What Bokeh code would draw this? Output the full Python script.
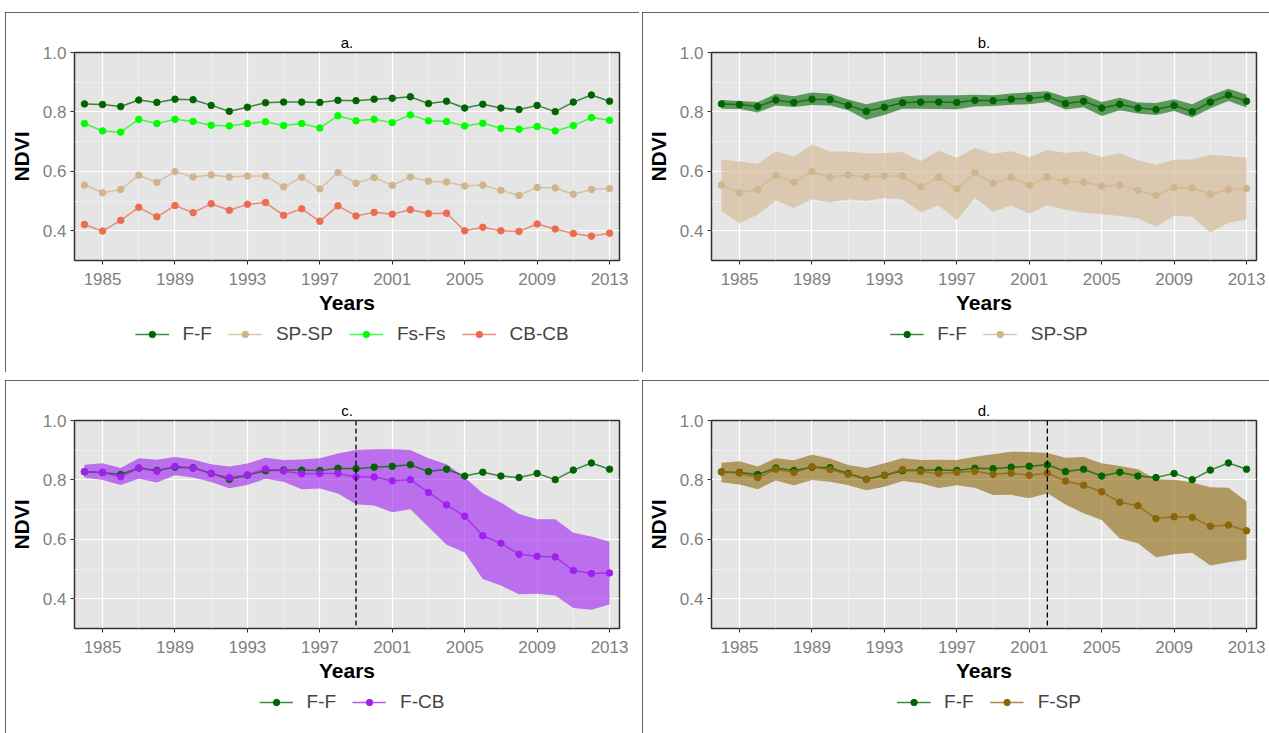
from bokeh.plotting import figure
from bokeh.models import (Range1d, FixedTicker, PrintfTickFormatter, Legend,
                          LegendItem, Span)
from bokeh.embed import file_html
from bokeh.resources import INLINE

# ---------------- data ----------------
years = [1984, 1985, 1986, 1987, 1988, 1989, 1990, 1991, 1992, 1993,
         1994, 1995, 1996, 1997, 1998, 1999, 2000, 2001, 2002, 2003,
         2004, 2005, 2006, 2007, 2008, 2009, 2010, 2011, 2012, 2013]

ff = [0.827, 0.825, 0.818, 0.840, 0.832, 0.843, 0.841, 0.822, 0.802, 0.816,
      0.831, 0.833, 0.833, 0.832, 0.839, 0.838, 0.843, 0.846, 0.851, 0.828,
      0.836, 0.813, 0.826, 0.813, 0.808, 0.822, 0.801, 0.833, 0.857, 0.836]
ff_hi = [0.840, 0.837, 0.833, 0.861, 0.853, 0.865, 0.861, 0.842, 0.826, 0.839,
         0.852, 0.856, 0.856, 0.856, 0.858, 0.856, 0.862, 0.866, 0.870, 0.850,
         0.858, 0.833, 0.848, 0.832, 0.830, 0.843, 0.826, 0.855, 0.878, 0.859]
ff_lo = [0.811, 0.810, 0.798, 0.822, 0.817, 0.823, 0.822, 0.806, 0.774, 0.790,
         0.811, 0.811, 0.810, 0.809, 0.818, 0.820, 0.824, 0.826, 0.833, 0.808,
         0.816, 0.786, 0.806, 0.795, 0.790, 0.803, 0.781, 0.812, 0.837, 0.815]

fsfs = [0.761, 0.736, 0.732, 0.775, 0.761, 0.775, 0.768, 0.755, 0.753, 0.761,
        0.767, 0.754, 0.761, 0.746, 0.787, 0.770, 0.775, 0.764, 0.790, 0.770,
        0.768, 0.753, 0.762, 0.745, 0.742, 0.751, 0.736, 0.754, 0.781, 0.772]

spsp = [0.554, 0.528, 0.539, 0.587, 0.563, 0.599, 0.581, 0.588, 0.581, 0.584,
        0.584, 0.548, 0.580, 0.541, 0.596, 0.560, 0.579, 0.553, 0.581, 0.567,
        0.564, 0.551, 0.554, 0.536, 0.519, 0.546, 0.544, 0.523, 0.539, 0.542]
spsp_hi = [0.640, 0.633, 0.626, 0.668, 0.650, 0.690, 0.667, 0.667, 0.661, 0.661,
           0.665, 0.635, 0.669, 0.646, 0.679, 0.659, 0.668, 0.648, 0.672, 0.662,
           0.668, 0.648, 0.661, 0.637, 0.622, 0.639, 0.640, 0.656, 0.651, 0.646]
spsp_lo = [0.467, 0.425, 0.454, 0.502, 0.477, 0.506, 0.496, 0.506, 0.501, 0.510,
           0.505, 0.462, 0.485, 0.436, 0.511, 0.464, 0.485, 0.458, 0.487, 0.470,
           0.461, 0.456, 0.450, 0.442, 0.414, 0.451, 0.447, 0.394, 0.427, 0.438]

cbcb = [0.421, 0.399, 0.435, 0.479, 0.447, 0.485, 0.461, 0.491, 0.469, 0.489,
        0.495, 0.452, 0.474, 0.432, 0.484, 0.450, 0.462, 0.456, 0.471, 0.458,
        0.459, 0.400, 0.412, 0.400, 0.398, 0.423, 0.406, 0.391, 0.382, 0.392]

fcb = [0.828, 0.825, 0.811, 0.840, 0.829, 0.846, 0.839, 0.822, 0.808, 0.817,
       0.837, 0.830, 0.821, 0.822, 0.822, 0.810, 0.810, 0.797, 0.801, 0.758,
       0.716, 0.678, 0.612, 0.587, 0.550, 0.543, 0.541, 0.495, 0.485, 0.487]
fcb_hi = [0.851, 0.856, 0.840, 0.873, 0.868, 0.877, 0.869, 0.853, 0.845, 0.855,
          0.875, 0.867, 0.869, 0.873, 0.889, 0.901, 0.903, 0.903, 0.901, 0.873,
          0.853, 0.808, 0.755, 0.724, 0.685, 0.668, 0.668, 0.622, 0.610, 0.592]
fcb_lo = [0.808, 0.800, 0.783, 0.804, 0.791, 0.816, 0.808, 0.793, 0.772, 0.783,
          0.804, 0.794, 0.769, 0.771, 0.754, 0.718, 0.714, 0.691, 0.701, 0.642,
          0.582, 0.556, 0.467, 0.445, 0.415, 0.417, 0.411, 0.369, 0.363, 0.381]

fsp = [0.827, 0.823, 0.808, 0.836, 0.825, 0.844, 0.835, 0.819, 0.802, 0.815,
       0.835, 0.828, 0.822, 0.826, 0.829, 0.819, 0.823, 0.816, 0.823, 0.796,
       0.782, 0.760, 0.725, 0.713, 0.670, 0.676, 0.674, 0.644, 0.648, 0.629]
fsp_hi = [0.858, 0.863, 0.845, 0.873, 0.866, 0.885, 0.872, 0.850, 0.840, 0.856,
          0.873, 0.867, 0.868, 0.867, 0.878, 0.886, 0.895, 0.894, 0.891, 0.875,
          0.877, 0.856, 0.847, 0.836, 0.802, 0.801, 0.791, 0.775, 0.774, 0.727]
fsp_lo = [0.792, 0.785, 0.769, 0.798, 0.782, 0.800, 0.794, 0.782, 0.765, 0.777,
          0.796, 0.789, 0.773, 0.782, 0.774, 0.749, 0.750, 0.738, 0.755, 0.717,
          0.688, 0.665, 0.603, 0.587, 0.540, 0.550, 0.555, 0.512, 0.523, 0.532]

x_major = [1985, 1989, 1993, 1997, 2001, 2005, 2009, 2013]
x_minor = [1987, 1991, 1995, 1999, 2003, 2007, 2011]
y_major = [0.4, 0.6, 0.8, 1.0]
y_minor = [0.5, 0.7, 0.9]

C_FF = "#006400"
C_SP = "#D2B48C"
C_FS = "#00FF00"
C_CB = "#EE6A50"
C_FCB = "#A020F0"
C_FSP = "#8B6508"

FONT = "Liberation Sans"


def make_panel(title, left, top, mb, mr):
    p = figure(frame_width=545, frame_height=208,
               x_range=Range1d(1983.45, 2013.55), y_range=Range1d(0.3, 1.0),
               output_backend="svg", toolbar_location=None,
               background_fill_color="#E5E5E5", border_fill_color="white",
               min_border_left=69, min_border_right=mr, min_border_top=40,
               min_border_bottom=mb,
               styles={"position": "absolute", "left": f"{left}px",
                       "top": f"{top}px",
                       "outline": "1px solid #333333",
                       "outline-offset": "-1px"})
    p.outline_line_color = "#333333"
    p.outline_line_width = 1.5
    p.title.text = title
    p.title.align = "center"
    p.title.text_font = FONT
    p.title.text_font_size = "15px"
    p.title.text_font_style = "normal"
    p.title.text_color = "black"
    p.title.standoff = 3

    p.xaxis.ticker = FixedTicker(ticks=x_major, minor_ticks=x_minor)
    p.yaxis.ticker = FixedTicker(ticks=y_major, minor_ticks=y_minor)
    p.xaxis.formatter = PrintfTickFormatter(format="%d")
    p.yaxis.formatter = PrintfTickFormatter(format="%.1f")
    for ax in (p.xaxis, p.yaxis):
        ax.axis_line_color = None
        ax.major_tick_line_color = "#333333"
        ax.major_tick_out = 4
        ax.major_tick_in = 0
        ax.minor_tick_out = 0
        ax.minor_tick_in = 0
        ax.major_label_text_font = FONT
        ax.major_label_text_font_size = "17px"
        ax.major_label_text_color = "#7F7F7F"
        ax.axis_label_text_font = FONT
        ax.axis_label_text_font_size = "21px"
        ax.axis_label_text_font_style = "bold"
        ax.axis_label_text_color = "black"
    p.xaxis.axis_label = "Years"
    p.yaxis.axis_label = "NDVI"
    p.xaxis.major_label_standoff = 8
    p.xaxis.axis_label_standoff = 3
    p.yaxis.major_label_standoff = 4
    p.yaxis.axis_label_standoff = 7

    for g in (p.xgrid, p.ygrid):
        g.grid_line_color = "white"
        g.grid_line_width = 1.2
        g.minor_grid_line_color = "#F2F2F2"
        g.minor_grid_line_width = 0.7
    return p


def add_series(p, vals, color):
    r1 = p.line(years, vals, line_color=color, line_width=1.5, line_alpha=0.75)
    r2 = p.scatter(years, vals, size=6.5, fill_color=color, line_color=color)
    return [r1, r2]


def add_ribbon(p, lo, hi, color):
    p.varea(x=years, y1=lo, y2=hi, fill_color=color, fill_alpha=0.6)


def legend_fig(entries, left, top):
    # a small strip under each panel that holds only the legend; its
    # renderers use the series data, which lies outside this strip's ranges
    lf = figure(width=545, height=30, x_range=Range1d(0, 1),
                y_range=Range1d(0, 1), x_axis_type=None, y_axis_type=None,
                output_backend="svg", toolbar_location=None,
                min_border=0, outline_line_color=None,
                background_fill_color="white", border_fill_color="white",
                styles={"position": "absolute", "left": f"{left}px",
                        "top": f"{top}px"})
    items = []
    for label, vals, color in entries:
        items.append(LegendItem(label=label, renderers=add_series(lf, vals, color)))
    leg = Legend(items=items, orientation="horizontal", location="center",
                 border_line_color=None, background_fill_alpha=0,
                 label_text_font=FONT, label_text_font_size="19px",
                 glyph_width=34, glyph_height=16, spacing=16,
                 label_standoff=14, padding=0, margin=0)
    lf.add_layout(leg, "center")
    return lf


# panel a
pa = make_panel("a.", 5, 12, 112, 20)
for v, c in ((ff, C_FF), (spsp, C_SP), (fsfs, C_FS), (cbcb, C_CB)):
    add_series(pa, v, c)
la = legend_fig([("F-F", ff, C_FF), ("SP-SP", spsp, C_SP),
                 ("Fs-Fs", fsfs, C_FS), ("CB-CB", cbcb, C_CB)], 79, 319)

# panel b
pb = make_panel("b.", 642, 12, 112, 13)
add_ribbon(pb, ff_lo, ff_hi, C_FF)
add_ribbon(pb, spsp_lo, spsp_hi, C_SP)
add_series(pb, ff, C_FF)
add_series(pb, spsp, C_SP)
lb = legend_fig([("F-F", ff, C_FF), ("SP-SP", spsp, C_SP)], 716, 319)

# panel c
pc = make_panel("c.", 5, 380, 105, 20)
add_ribbon(pc, fcb_lo, fcb_hi, C_FCB)
add_series(pc, ff, C_FF)
add_series(pc, fcb, C_FCB)
pc.add_layout(Span(location=1999, dimension="height", line_color="black",
                   line_dash="5 3", line_width=1.3))
lc = legend_fig([("F-F", ff, C_FF), ("F-CB", fcb, C_FCB)], 79, 687)

# panel d
pd_ = make_panel("d.", 642, 380, 105, 13)
add_ribbon(pd_, fsp_lo, fsp_hi, C_FSP)
add_series(pd_, ff, C_FF)
add_series(pd_, fsp, C_FSP)
pd_.add_layout(Span(location=2002, dimension="height", line_color="black",
                    line_dash="5 3", line_width=1.3))
ld = legend_fig([("F-F", ff, C_FF), ("F-SP", fsp, C_FSP)], 716, 687)

with open("out.html", "w") as f:
    f.write(file_html([pa, pb, pc, pd_, la, lb, lc, ld], INLINE))
